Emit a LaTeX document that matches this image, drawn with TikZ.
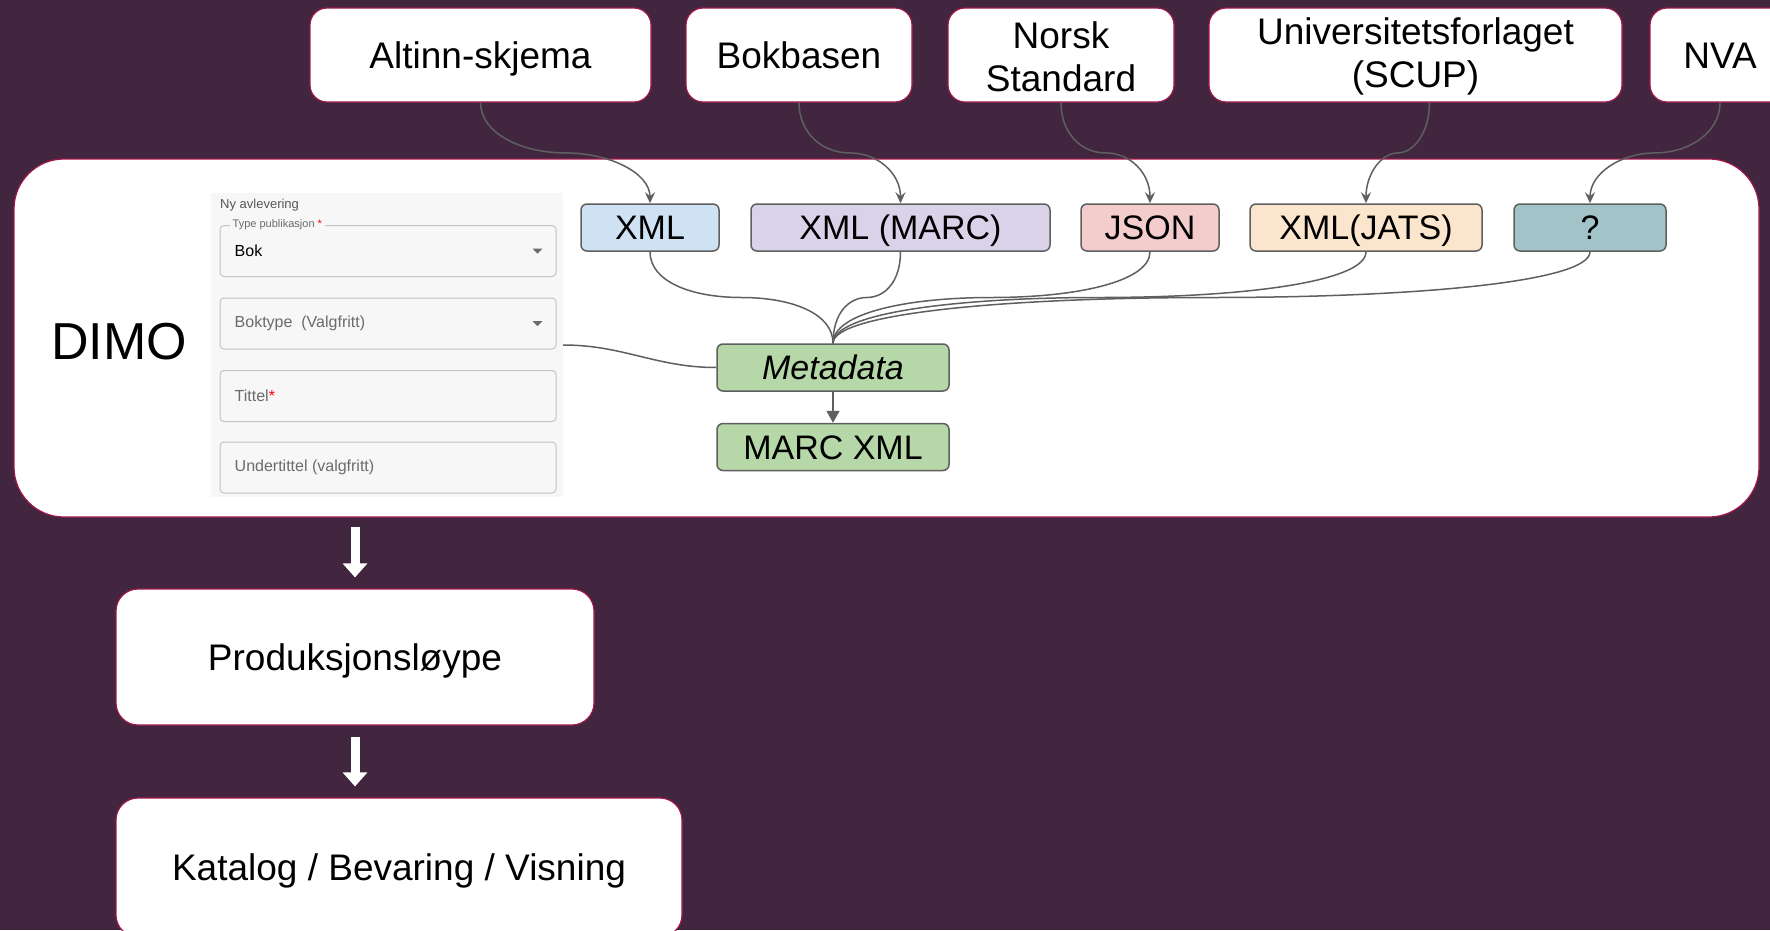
\documentclass[tikz,border=0pt]{standalone}
\usepackage{fontspec}
\setmainfont{Liberation Sans}
\usetikzlibrary{arrows.meta, positioning, calc}
\definecolor{bakgrunn}{HTML}{42263F}
\definecolor{kant}{HTML}{A0174B}
\definecolor{linje}{HTML}{5F5F5F}
\definecolor{xmlblaa}{HTML}{CFE2F3}
\definecolor{marclilla}{HTML}{D9D2E9}
\definecolor{jsonrosa}{HTML}{F4CCCC}
\definecolor{jatsoransje}{HTML}{FCE5CD}
\definecolor{ukjentgraa}{HTML}{A2C4C9}
\definecolor{metagronn}{HTML}{B6D7A8}
\definecolor{skjemabg}{HTML}{F7F7F7}
\definecolor{feltkant}{HTML}{C4C4C4}
\definecolor{graatekst}{HTML}{6B6B6B}
\tikzset{
    capline/.style={text height=#1, text depth=0pt},
    source/.style={rectangle, draw=kant, line width=1.2pt, fill=white, rounded corners=17pt, align=center, minimum height=94pt, font=\fontsize{37}{43}\selectfont},
    panel/.style={rectangle, draw=kant, line width=1.2pt, fill=white, rounded corners=50pt},
    format/.style={rectangle, draw=linje, line width=1.5pt, rounded corners=6pt, minimum height=47pt, capline=24.3pt, font=\fontsize{34}{40}\selectfont},
    stage/.style={rectangle, draw=kant, line width=1.2pt, fill=white, rounded corners=22pt, capline=26.5pt, font=\fontsize{37}{43}\selectfont},
    field/.style={rectangle, draw=feltkant, line width=1pt, rounded corners=4pt, minimum width=336pt, minimum height=51pt},
    fieldtext/.style={font=\fontsize{16}{19}\selectfont, text=graatekst},
    flow/.style={draw=linje, line width=1.5pt, -{Stealth[length=11pt, width=10pt, inset=4pt]}},
    feedline/.style={draw=linje, line width=1.5pt},
    bigarrow/.style={draw=white, line width=9pt, -{Triangle[length=14pt, width=24pt]}}
}
\begin{document}
\begin{tikzpicture}[x=1pt, y=-1pt, inner sep=0pt]
    \useasboundingbox (0,0) rectangle (1770,930);
    \clip (0,0) rectangle (1770,930);
    \fill[bakgrunn] (0,0) rectangle (1770,930);

    % kilder
    \node[source, capline=26.5pt, minimum width=341pt] (altinn) at (480.5,55) {Altinn-skjema};
    \node[source, capline=26.5pt, minimum width=226pt] (bokbasen) at (799,55) {Bokbasen};
    \node[source, minimum width=226pt] (norsk) at (1061,55) {\strut Norsk\\Standard};
    \node[source, minimum width=413pt] (unifor) at (1415.5,55) {\strut Universitetsforlaget\\(SCUP)};
    \node[source, capline=26.5pt, minimum width=140pt] (nva) at (1720,55) {NVA};

    % DIMO
    \node[panel, minimum width=1745pt, minimum height=358pt] (dimo) at (886.5,338) {};
    \node[anchor=west, capline=37.2pt, font=\fontsize{52}{60}\selectfont] (dimotekst) at (51,341) {DIMO};

    % skjema
    \node[fill=skjemabg, minimum width=352pt, minimum height=304pt] (skjema) at (387,345) {};
    \node[anchor=west, font=\fontsize{13}{15}\selectfont, text=graatekst!80!black] (nyavl) at (220,205) {Ny avlevering};
    \node[field] (felttype) at (388,251) {};
    \node[field] (feltboktype) at (388,323.5) {};
    \node[field] (felttittel) at (388,396) {};
    \node[field] (feltundertittel) at (388,467.5) {};
    \node[anchor=west, fill=skjemabg, inner xsep=3pt, font=\fontsize{11}{13}\selectfont, text=graatekst] (typelabel) at ([xshift=10pt]felttype.north west) {Type publikasjon {\color{red}*}};
    \node[fieldtext, text=black, right=15pt of felttype.west] (bok) {Bok};
    \node[fieldtext, right=15pt of feltboktype.west] (boktype) {Boktype\ \ (Valgfritt)};
    \node[fieldtext, right=15pt of felttittel.west] (tittel) {Tittel{\color{red}*}};
    \node[fieldtext, right=15pt of feltundertittel.west] (undertittel) {Undertittel (valgfritt)};
    \fill[graatekst] ([xshift=-19pt]felttype.east) ++(-5,-2.5) -- ++(10,0) -- ++(-5,5) -- cycle;
    \fill[graatekst] ([xshift=-19pt]feltboktype.east) ++(-5,-2.5) -- ++(10,0) -- ++(-5,5) -- cycle;

    % formater
    \node[format, fill=xmlblaa, minimum width=138pt] (xml) at (650,227.5) {XML};
    \node[format, fill=marclilla, minimum width=299pt] (xmlmarc) at (900.5,227.5) {XML (MARC)};
    \node[format, fill=jsonrosa, minimum width=138pt] (json) at (1150,227.5) {JSON};
    \node[format, fill=jatsoransje, minimum width=232pt] (jats) at (1366,227.5) {XML(JATS)};
    \node[format, fill=ukjentgraa, minimum width=152pt] (ukjent) at (1590,227.5) {?};
    \node[format, fill=metagronn, minimum width=232pt, font=\fontsize{34}{40}\selectfont\itshape] (meta) at (833,367.5) {Metadata};
    \node[format, fill=metagronn, minimum width=232pt, below=31pt of meta] (marcxml) {MARC XML};

    % flyt
    \node[stage, minimum width=478pt, minimum height=136pt] (prod) at (355,657) {Produksjonsløype};
    \node[stage, minimum width=566pt, minimum height=139pt] (katalog) at (399,867.5) {Katalog / Bevaring / Visning};

    % kilde -> format
    \coordinate (k1) at ($(altinn.south)!0.5!(xml.north)$);
    \coordinate (k2) at ($(bokbasen.south)!0.5!(xmlmarc.north)$);
    \coordinate (k3) at ($(norsk.south)!0.5!(json.north)$);
    \coordinate (k4) at ($([xshift=14pt]unifor.south)!0.5!(jats.north)$);
    \coordinate (k5) at ($(nva.south)!0.5!(ukjent.north)$);
    \draw[flow] (altinn.south) .. controls +(0,30) and +(-45,0) .. (k1) .. controls +(45,0) and +(0,-30) .. (xml.north);
    \draw[flow] (bokbasen.south) .. controls +(0,30) and +(-28,0) .. (k2) .. controls +(28,0) and +(0,-30) .. (xmlmarc.north);
    \draw[flow] (norsk.south) .. controls +(0,30) and +(-25,0) .. (k3) .. controls +(25,0) and +(0,-30) .. (json.north);
    \draw[flow] ([xshift=14pt]unifor.south) .. controls +(0,30) and +(16,0) .. (k4) .. controls +(-16,0) and +(0,-30) .. (jats.north);
    \draw[flow] (nva.south) .. controls +(0,30) and +(34,0) .. (k5) .. controls +(-34,0) and +(0,-30) .. (ukjent.north);

    % format -> metadata
    \coordinate (m1) at ($(xml.south)!0.5!(meta.north)$);
    \coordinate (m2) at ($(xmlmarc.south)!0.5!(meta.north)$);
    \coordinate (m3) at ($(json.south)!0.5!(meta.north)$);
    \coordinate (m4) at ($(jats.south)!0.5!(meta.north)$);
    \coordinate (m5) at ($(ukjent.south)!0.5!(meta.north)$);
    \draw[feedline] (xml.south) .. controls +(0,30) and +(-50,0) .. (m1) .. controls +(50,0) and +(0,-30) .. (meta.north);
    \draw[feedline] (xmlmarc.south) .. controls +(0,30) and +(18,0) .. (m2) .. controls +(-18,0) and +(0,-30) .. (meta.north);
    \draw[feedline] (json.south) .. controls +(0,30) and +(85,0) .. (m3) .. controls +(-85,0) and +(0,-30) .. (meta.north);
    \draw[feedline] (jats.south) .. controls +(0,30) and +(145,0) .. (m4) .. controls +(-145,0) and +(0,-30) .. (meta.north);
    \draw[feedline] (ukjent.south) .. controls +(0,30) and +(205,0) .. (m5) .. controls +(-205,0) and +(0,-30) .. (meta.north);
    \draw[feedline] (skjema.east) to[out=0, in=180] (meta.west);
    \draw[feedline, -{Triangle[length=12pt, width=13pt]}] (meta) -- (marcxml);

    \draw[bigarrow] ($(prod.north |- dimo.south)+(0,9)$) -- ($(prod.north)+(0,-11)$);
    \draw[bigarrow] ($(prod.south)+(0,11)$) -- ($(prod.south |- katalog.north)+(0,-11)$);
\end{tikzpicture}
\end{document}
